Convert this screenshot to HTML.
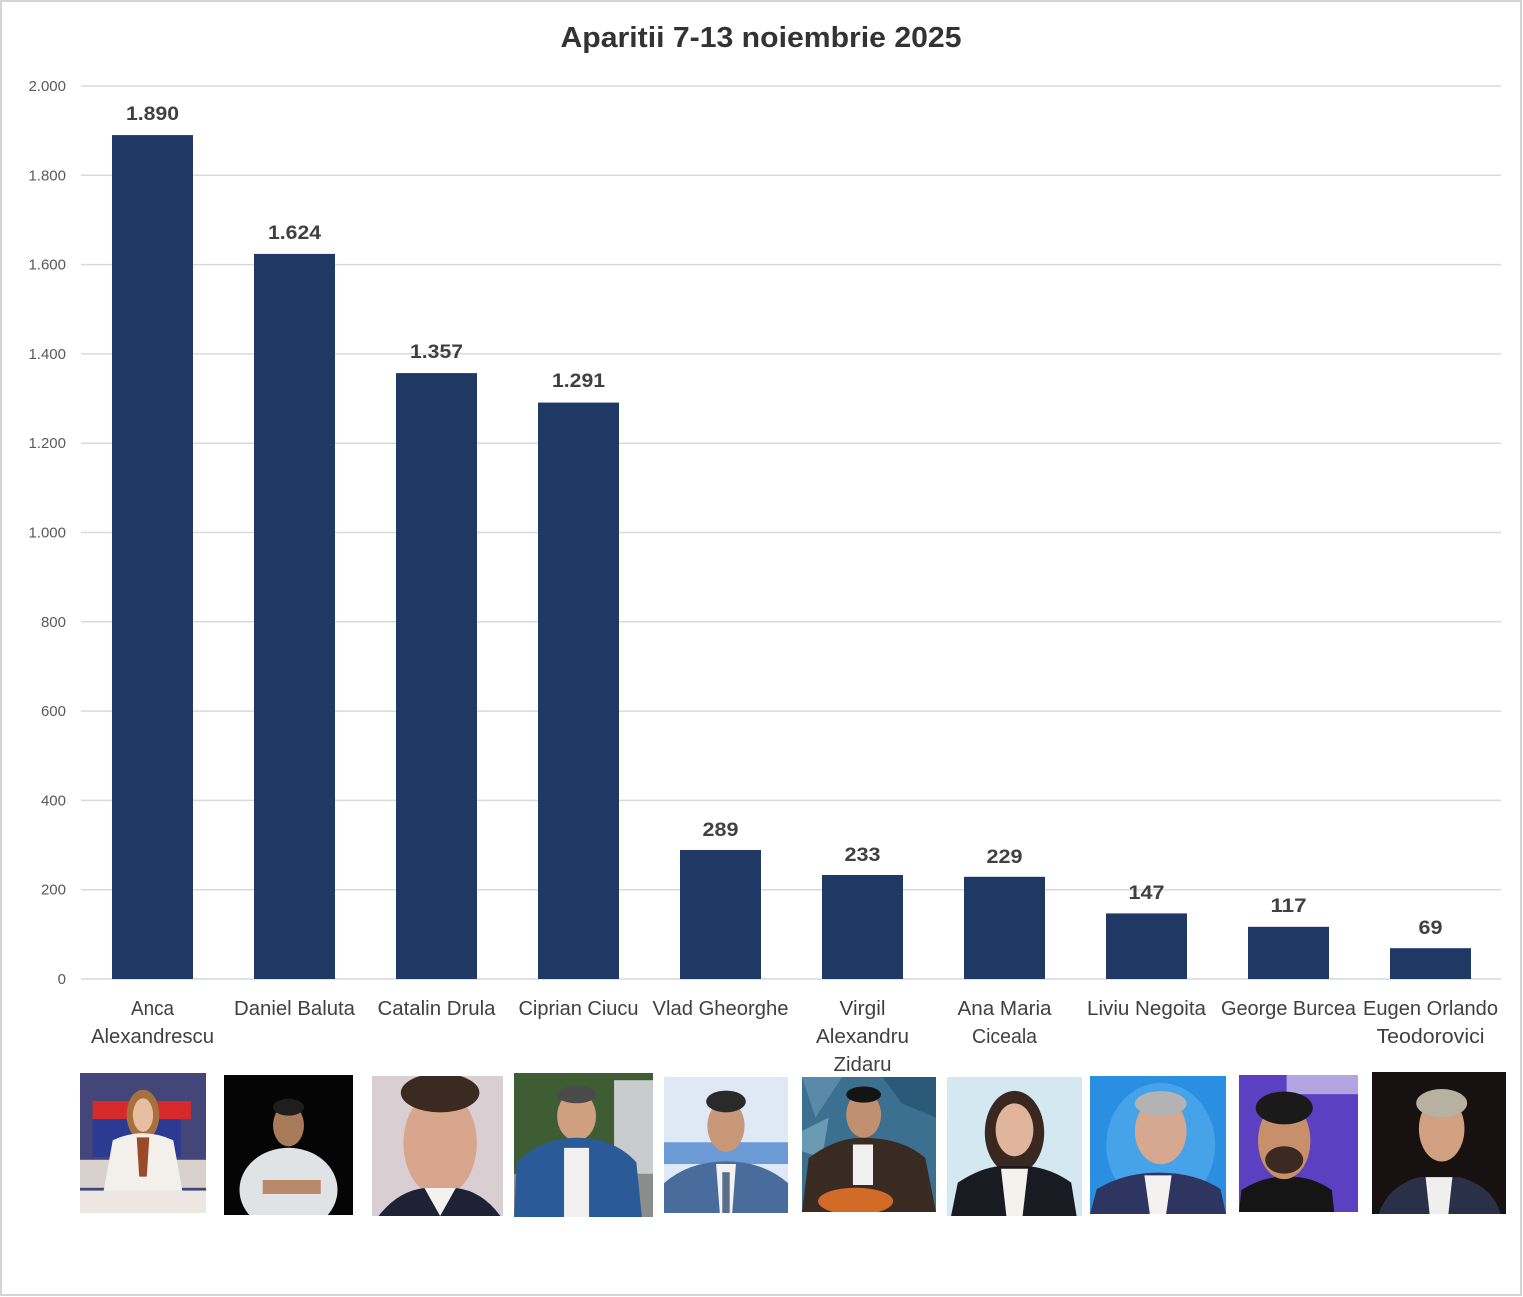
<!DOCTYPE html>
<html><head><meta charset="utf-8"><style>
html,body{margin:0;padding:0;background:#fff;}
svg{display:block;}
</style></head><body>
<svg width="1523" height="1297" viewBox="0 0 1523 1297" xmlns="http://www.w3.org/2000/svg" font-family="'Liberation Sans', sans-serif">
<rect x="1" y="1" width="1520" height="1294" fill="#fff" stroke="#d4d4d4" stroke-width="2"/>
<text x="761" y="47" text-anchor="middle" font-size="29" font-weight="bold" fill="#333" textLength="401" lengthAdjust="spacingAndGlyphs">Aparitii 7-13 noiembrie 2025</text>
<g stroke="#d9d9d9" stroke-width="1.5">
<line x1="81" x2="1501" y1="86" y2="86"/>
<line x1="81" x2="1501" y1="175.3" y2="175.3"/>
<line x1="81" x2="1501" y1="264.6" y2="264.6"/>
<line x1="81" x2="1501" y1="353.9" y2="353.9"/>
<line x1="81" x2="1501" y1="443.2" y2="443.2"/>
<line x1="81" x2="1501" y1="532.5" y2="532.5"/>
<line x1="81" x2="1501" y1="621.8" y2="621.8"/>
<line x1="81" x2="1501" y1="711.1" y2="711.1"/>
<line x1="81" x2="1501" y1="800.4" y2="800.4"/>
<line x1="81" x2="1501" y1="889.7" y2="889.7"/>
<line x1="81" x2="1501" y1="979" y2="979"/>
</g>
<g font-size="15" fill="#595959" text-anchor="end">
<text x="66" y="91">2.000</text>
<text x="66" y="180.3">1.800</text>
<text x="66" y="269.6">1.600</text>
<text x="66" y="358.9">1.400</text>
<text x="66" y="448.2">1.200</text>
<text x="66" y="537.5">1.000</text>
<text x="66" y="626.8">800</text>
<text x="66" y="716.1">600</text>
<text x="66" y="805.4">400</text>
<text x="66" y="894.7">200</text>
<text x="66" y="984">0</text>
</g>
<g fill="#1f3864">
<rect x="112" y="135.1" width="81" height="843.9"/>
<rect x="254" y="253.9" width="81" height="725.1"/>
<rect x="396" y="373.1" width="81" height="605.9"/>
<rect x="538" y="402.6" width="81" height="576.4"/>
<rect x="680" y="850" width="81" height="129"/>
<rect x="822" y="875" width="81" height="104"/>
<rect x="964" y="876.8" width="81" height="102.2"/>
<rect x="1106" y="913.4" width="81" height="65.6"/>
<rect x="1248" y="926.8" width="81" height="52.2"/>
<rect x="1390" y="948.2" width="81" height="30.8"/>
</g>
<g font-size="19" font-weight="bold" fill="#404040" text-anchor="middle">
<text x="152.5" y="120" textLength="53" lengthAdjust="spacingAndGlyphs">1.890</text>
<text x="294.5" y="239" textLength="53" lengthAdjust="spacingAndGlyphs">1.624</text>
<text x="436.5" y="358" textLength="53" lengthAdjust="spacingAndGlyphs">1.357</text>
<text x="578.5" y="387" textLength="53" lengthAdjust="spacingAndGlyphs">1.291</text>
<text x="720.5" y="836" textLength="36" lengthAdjust="spacingAndGlyphs">289</text>
<text x="862.5" y="861" textLength="36" lengthAdjust="spacingAndGlyphs">233</text>
<text x="1004.5" y="863" textLength="36" lengthAdjust="spacingAndGlyphs">229</text>
<text x="1146.5" y="899" textLength="36" lengthAdjust="spacingAndGlyphs">147</text>
<text x="1288.5" y="912" textLength="36" lengthAdjust="spacingAndGlyphs">117</text>
<text x="1430.5" y="934" textLength="24" lengthAdjust="spacingAndGlyphs">69</text>
</g>
<g font-size="20" fill="#404040" text-anchor="middle">
<text x="152.5" y="1015" textLength="43" lengthAdjust="spacingAndGlyphs">Anca</text>
<text x="152.5" y="1043" textLength="123" lengthAdjust="spacingAndGlyphs">Alexandrescu</text>
<text x="294.5" y="1015" textLength="121" lengthAdjust="spacingAndGlyphs">Daniel Baluta</text>
<text x="436.5" y="1015" textLength="118" lengthAdjust="spacingAndGlyphs">Catalin Drula</text>
<text x="578.5" y="1015" textLength="120" lengthAdjust="spacingAndGlyphs">Ciprian Ciucu</text>
<text x="720.5" y="1015" textLength="136" lengthAdjust="spacingAndGlyphs">Vlad Gheorghe</text>
<text x="862.5" y="1015" textLength="46" lengthAdjust="spacingAndGlyphs">Virgil</text>
<text x="862.5" y="1043" textLength="93" lengthAdjust="spacingAndGlyphs">Alexandru</text>
<text x="862.5" y="1071" textLength="58" lengthAdjust="spacingAndGlyphs">Zidaru</text>
<text x="1004.5" y="1015" textLength="94" lengthAdjust="spacingAndGlyphs">Ana Maria</text>
<text x="1004.5" y="1043" textLength="65" lengthAdjust="spacingAndGlyphs">Ciceala</text>
<text x="1146.5" y="1015" textLength="119" lengthAdjust="spacingAndGlyphs">Liviu Negoita</text>
<text x="1288.5" y="1015" textLength="135" lengthAdjust="spacingAndGlyphs">George Burcea</text>
<text x="1430.5" y="1015" textLength="135" lengthAdjust="spacingAndGlyphs">Eugen Orlando</text>
<text x="1430.5" y="1043" textLength="108" lengthAdjust="spacingAndGlyphs">Teodorovici</text>
</g>

<!-- photos -->
<svg x="80" y="1073" width="126" height="140" viewBox="0 0 100 100" preserveAspectRatio="none">
<rect width="100" height="100" fill="#44467a"/>
<rect x="10" y="20" width="78" height="13" fill="#d62a2a"/>
<rect x="10" y="33" width="70" height="27" fill="#2b3a92"/>
<rect x="0" y="62" width="100" height="20" fill="#d9d2cc"/>
<ellipse cx="50" cy="30" rx="13" ry="18" fill="#a8703e"/>
<ellipse cx="50" cy="30" rx="8" ry="12" fill="#e7bfa0"/>
<path d="M26 48 Q50 38 74 48 L82 88 L18 88 Z" fill="#f3f0ec"/>
<path d="M45 46 L55 46 L53 74 L47 74 Z" fill="#9a4a2a"/>
<rect x="0" y="84" width="100" height="16" fill="#ece7e2"/>
</svg>
<svg x="224" y="1075" width="129" height="140" viewBox="0 0 100 100" preserveAspectRatio="none">
<rect width="100" height="100" fill="#050505"/>
<ellipse cx="50" cy="82" rx="38" ry="30" fill="#dfe3e5"/>
<ellipse cx="50" cy="36" rx="12" ry="15" fill="#a87a5a"/>
<ellipse cx="50" cy="23" rx="12" ry="6" fill="#1e1e1e"/>
<rect x="30" y="75" width="45" height="10" fill="#b88a6a"/>
</svg>
<svg x="372" y="1076" width="131" height="140" viewBox="0 0 100 100" preserveAspectRatio="none">
<rect width="100" height="100" fill="#d9cfd3"/>
<ellipse cx="52" cy="48" rx="28" ry="38" fill="#d8a68c"/>
<ellipse cx="52" cy="12" rx="30" ry="14" fill="#3a2a22"/>
<path d="M5 100 Q20 82 40 80 L64 80 Q84 82 98 100 Z" fill="#1e2236"/>
<path d="M40 80 L52 100 L64 80 Z" fill="#f4f2f0"/>
</svg>
<svg x="514" y="1073" width="139" height="144" viewBox="0 0 100 100" preserveAspectRatio="none">
<rect width="100" height="100" fill="#3f5d33"/>
<rect x="72" y="5" width="28" height="95" fill="#c9cbcc"/>
<rect x="0" y="70" width="100" height="30" fill="#8a8d8c"/>
<ellipse cx="45" cy="30" rx="14" ry="17" fill="#cf9f80"/>
<ellipse cx="45" cy="15" rx="14" ry="6" fill="#4a4a4a"/>
<path d="M0 100 L2 62 Q20 45 45 45 Q72 45 88 62 L92 100 Z" fill="#2a5a98"/>
<rect x="36" y="52" width="18" height="48" fill="#f0f0f0"/>
</svg>
<svg x="664" y="1077" width="124" height="136" viewBox="0 0 100 100" preserveAspectRatio="none">
<rect width="100" height="100" fill="#dfe9f6"/>
<rect x="0" y="48" width="100" height="16" fill="#3a78c8" opacity="0.7"/>
<path d="M0 100 L0 78 Q20 62 50 62 Q80 62 100 78 L100 100 Z" fill="#4a6c9c"/>
<path d="M42 64 L58 64 L55 100 L45 100 Z" fill="#f4f2f0"/>
<rect x="47" y="70" width="6" height="30" fill="#5a6f8a"/>
<ellipse cx="50" cy="36" rx="15" ry="19" fill="#c99878"/>
<ellipse cx="50" cy="18" rx="16" ry="8" fill="#2a2a2a"/>
</svg>
<svg x="802" y="1077" width="134" height="135" viewBox="0 0 100 100" preserveAspectRatio="none">
<rect width="100" height="100" fill="#3c7090"/>
<polygon points="0,0 30,0 10,30" fill="#5a8aa8"/>
<polygon points="60,0 100,0 100,30 75,20" fill="#2a5a78"/>
<polygon points="0,40 20,30 15,60 0,55" fill="#6a9ab4"/>
<path d="M0 100 L5 60 Q25 45 45 45 Q75 45 92 60 L100 100 Z" fill="#3a2b22"/>
<rect x="38" y="50" width="15" height="30" fill="#f0f0f0"/>
<ellipse cx="46" cy="28" rx="13" ry="17" fill="#c09070"/>
<ellipse cx="46" cy="13" rx="13" ry="6" fill="#141414"/>
<ellipse cx="40" cy="92" rx="28" ry="10" fill="#d26a28"/>
</svg>
<svg x="947" y="1077" width="135" height="139" viewBox="0 0 100 100" preserveAspectRatio="none">
<rect width="100" height="100" fill="#d4e8f2"/>
<ellipse cx="50" cy="40" rx="22" ry="30" fill="#3a2820"/>
<ellipse cx="50" cy="38" rx="14" ry="19" fill="#e0b59c"/>
<path d="M3 100 L8 76 Q25 65 40 64 L60 64 Q78 66 92 76 L96 100 Z" fill="#1a1b22"/>
<path d="M40 66 L60 66 L56 100 L44 100 Z" fill="#f5f2ee"/>
</svg>
<svg x="1090" y="1076" width="136" height="138" viewBox="0 0 100 100" preserveAspectRatio="none">
<rect width="100" height="100" fill="#2a8fe0"/>
<ellipse cx="52" cy="50" rx="40" ry="45" fill="#5ab0f0" opacity="0.6"/>
<path d="M0 100 L5 82 Q25 70 50 70 Q78 70 96 82 L100 100 Z" fill="#2e3560"/>
<path d="M40 72 L60 72 L56 100 L44 100 Z" fill="#f3f2f0"/>
<ellipse cx="52" cy="40" rx="19" ry="24" fill="#d6a890"/>
<ellipse cx="52" cy="20" rx="19" ry="9" fill="#b3b3b3"/>
</svg>
<svg x="1239" y="1075" width="119" height="137" viewBox="0 0 100 100" preserveAspectRatio="none">
<rect width="100" height="100" fill="#5b40c2"/>
<rect x="40" y="0" width="60" height="14" fill="#d8d0f0" opacity="0.7"/>
<path d="M0 100 L2 84 Q20 74 40 74 Q62 74 78 84 L80 100 Z" fill="#151515"/>
<ellipse cx="38" cy="48" rx="22" ry="28" fill="#c8906a"/>
<ellipse cx="38" cy="24" rx="24" ry="12" fill="#1a1a1a"/>
<ellipse cx="38" cy="62" rx="16" ry="10" fill="#3a2a22"/>
</svg>
<svg x="1372" y="1072" width="134" height="142" viewBox="0 0 100 100" preserveAspectRatio="none">
<rect width="100" height="100" fill="#171111"/>
<path d="M5 100 Q12 80 35 74 L65 74 Q90 80 96 100 Z" fill="#2a3048"/>
<path d="M40 74 L60 74 L57 100 L43 100 Z" fill="#f0efed"/>
<ellipse cx="52" cy="40" rx="17" ry="23" fill="#d0a080"/>
<ellipse cx="52" cy="22" rx="19" ry="10" fill="#b8b0a0"/>
</svg>
</svg>
</body></html>
